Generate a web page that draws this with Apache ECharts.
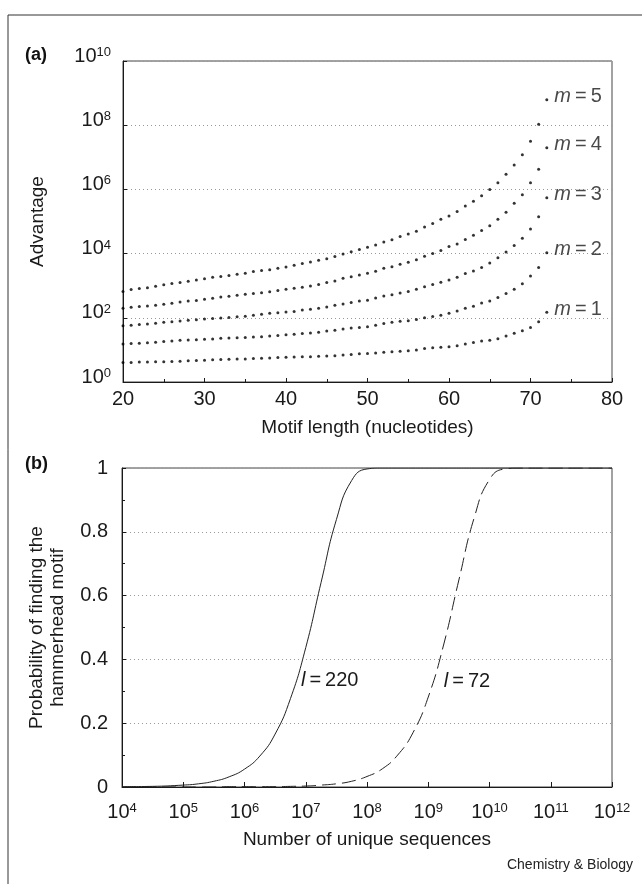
<!DOCTYPE html>
<html>
<head>
<meta charset="utf-8">
<title>Advantage and probability of finding the hammerhead motif</title>
<script src="https://cdn.jsdelivr.net/npm/echarts@6/dist/echarts.min.js"></script>
<style>
html, body { margin: 0; padding: 0; background: #fff; }
#main { width: 642px; height: 884px; }
</style>
</head>
<body>
<div id="main"></div>
<script>
var motifLength = [20, 21, 22, 23, 24, 25, 26, 27, 28, 29, 30, 31, 32, 33, 34, 35, 36, 37, 38, 39,
    40, 41, 42, 43, 44, 45, 46, 47, 48, 49, 50, 51, 52, 53, 54, 55, 56, 57, 58, 59,
    60, 61, 62, 63, 64, 65, 66, 67, 68, 69, 70, 71, 72];
var advM1 = [0.61, 0.61, 0.62, 0.62, 0.63, 0.63, 0.64, 0.65, 0.66, 0.67, 0.68, 0.69, 0.70, 0.71, 0.72, 0.72, 0.73, 0.74, 0.75, 0.76,
    0.77, 0.78, 0.79, 0.79, 0.80, 0.81, 0.82, 0.84, 0.86, 0.88, 0.89, 0.90, 0.93, 0.94, 0.96, 0.97, 1.00, 1.04, 1.07, 1.08,
    1.10, 1.13, 1.18, 1.23, 1.28, 1.30, 1.35, 1.43, 1.52, 1.60, 1.70, 1.88, 2.17];
var advM2 = [1.18, 1.20, 1.21, 1.22, 1.24, 1.26, 1.28, 1.30, 1.31, 1.32, 1.33, 1.34, 1.36, 1.37, 1.38, 1.39, 1.40, 1.41, 1.43, 1.45,
    1.47, 1.49, 1.51, 1.53, 1.55, 1.59, 1.61, 1.65, 1.68, 1.70, 1.72, 1.77, 1.82, 1.86, 1.89, 1.91, 1.95, 2.00, 2.04, 2.08,
    2.14, 2.21, 2.30, 2.36, 2.46, 2.52, 2.63, 2.76, 2.89, 3.06, 3.30, 3.57, 4.03];
var advM3 = [1.75, 1.77, 1.79, 1.81, 1.83, 1.86, 1.88, 1.90, 1.92, 1.94, 1.96, 1.98, 1.99, 2.01, 2.03, 2.05, 2.08, 2.11, 2.14, 2.16,
    2.18, 2.20, 2.24, 2.27, 2.30, 2.34, 2.39, 2.43, 2.48, 2.52, 2.55, 2.62, 2.68, 2.72, 2.77, 2.82, 2.89, 2.97, 3.04, 3.11,
    3.18, 3.26, 3.38, 3.46, 3.57, 3.71, 3.87, 4.05, 4.25, 4.48, 4.77, 5.15, 5.74];
var advM4 = [2.30, 2.33, 2.35, 2.37, 2.39, 2.42, 2.45, 2.49, 2.52, 2.54, 2.58, 2.61, 2.65, 2.67, 2.70, 2.73, 2.76, 2.78, 2.81, 2.85,
    2.89, 2.92, 2.95, 2.99, 3.04, 3.10, 3.15, 3.23, 3.28, 3.33, 3.39, 3.45, 3.54, 3.59, 3.67, 3.73, 3.81, 3.92, 4.00, 4.10,
    4.22, 4.30, 4.44, 4.57, 4.72, 4.87, 5.07, 5.29, 5.57, 5.83, 6.21, 6.63, 7.30];
var advM5 = [2.82, 2.88, 2.91, 2.94, 2.98, 3.03, 3.07, 3.10, 3.14, 3.18, 3.22, 3.26, 3.29, 3.32, 3.36, 3.39, 3.44, 3.47, 3.50, 3.54,
    3.58, 3.64, 3.69, 3.74, 3.79, 3.84, 3.91, 3.99, 4.06, 4.13, 4.20, 4.27, 4.36, 4.43, 4.53, 4.61, 4.70, 4.83, 4.94, 5.07,
    5.17, 5.31, 5.48, 5.63, 5.80, 6.00, 6.21, 6.47, 6.76, 7.08, 7.50, 8.03, 8.79];
var mNames = ['1', '2', '3', '4', '5'];

// (b) number of unique sequences (power of ten) and probability of finding the motif
var seqExp = [4, 4.5, 5, 5.25, 5.5, 5.75, 6, 6.25, 6.5, 6.75, 7, 7.25, 7.5, 7.75, 8, 8.25, 8.5, 8.75,
    9, 9.25, 9.5, 9.75, 10, 10.25, 10.5, 11, 11.5, 12];
var prob220 = [0.001, 0.002, 0.006, 0.010, 0.018, 0.032, 0.056, 0.097, 0.166, 0.277, 0.437, 0.641, 0.838, 0.961, 0.997, 1, 1, 1,
    1, 1, 1, 1, 1, 1, 1, 1, 1, 1];
var prob72 = [0, 0, 0, 0, 0, 0.001, 0.001, 0.001, 0.001, 0.002, 0.003, 0.006, 0.010, 0.018, 0.033, 0.057, 0.100, 0.170,
    0.282, 0.445, 0.649, 0.844, 0.964, 0.997, 1, 1, 1, 1];

var font = 'Liberation Sans';
var ink = '#1a1a1a';

var myChart = echarts.init(document.getElementById('main'));

function pow10Label(v) {
    var e = Math.round(Math.log(v) / Math.LN10);
    return '{b|10}{s|' + e + '}';
}
var powRich = {
    b: { fontSize: 20, fontFamily: font, color: ink },
    s: { fontSize: 13, fontFamily: font, color: ink, verticalAlign: 'top' }
};
var italicRich = {
    i: { fontSize: 20, fontFamily: font, fontStyle: 'italic', color: ink },
    t: { fontSize: 20, fontFamily: font, color: ink }
};

function dotSeries(exps, m) {
    var data = exps.map(function (e, i) {
        var item = { value: [motifLength[i], Math.pow(10, e)] };
        if (i === exps.length - 1) {
            item.label = {
                show: true,
                position: 'right',
                distance: 6,
                offset: [0, -3],
                formatter: '{i|m}{t|\u2009=\u2009' + m + '}',
                rich: italicRich
            };
        }
        return item;
    });
    return {
        type: 'scatter',
        name: 'm=' + m,
        xAxisIndex: 0,
        yAxisIndex: 0,
        symbol: 'circle',
        symbolSize: 3,
        itemStyle: { color: '#000' },
        data: data
    };
}

function probSeries(probs, l, dash, labelAt, offset) {
    return {
        type: 'line',
        name: 'l=' + l,
        xAxisIndex: 1,
        yAxisIndex: 1,
        showSymbol: false,
        smooth: true,
        lineStyle: { color: '#222', width: 1, type: dash },
        data: probs.map(function (p, i) { return [Math.pow(10, seqExp[i]), p]; }),
        markPoint: {
            symbol: 'circle',
            symbolSize: 1,
            itemStyle: { color: 'rgba(0,0,0,0)' },
            label: {
                show: true,
                position: 'right',
                distance: 0,
                offset: offset,
                formatter: '{i|l}{t|\u2009=\u2009' + l + '}',
                rich: italicRich
            },
            data: [{ coord: [Math.pow(10, seqExp[labelAt]), probs[labelAt]] }]
        }
    };
}

var axisLineStyle = { lineStyle: { color: ink, width: 1 } };
var gridDots = { show: true, lineStyle: { color: '#999', width: 1, type: [1, 3] } };
var titleStyle = { fontSize: 19, color: ink, fontFamily: font };

option = {
    animation: false,
    backgroundColor: '#fff',
    textStyle: { fontFamily: font },
    grid: [
        { left: 123, top: 61, right: 30, bottom: 502, show: true, borderColor: '#444', borderWidth: 1 },
        { left: 122, top: 468, right: 30, bottom: 97, show: true, borderColor: '#444', borderWidth: 1 }
    ],
    xAxis: [{
        gridIndex: 0,
        type: 'value',
        min: 20,
        max: 80,
        interval: 10,
        name: 'Motif length (nucleotides)',
        nameLocation: 'middle',
        nameGap: 36,
        nameTextStyle: titleStyle,
        axisLine: axisLineStyle,
        axisTick: { inside: true, length: 4, lineStyle: { color: ink } },
        minorTick: { show: true, splitNumber: 2, length: 3, lineStyle: { color: ink } },
        axisLabel: { fontSize: 20, color: ink, margin: 7, fontFamily: font },
        splitLine: { show: false }
    }, {
        gridIndex: 1,
        type: 'log',
        logBase: 10,
        min: 1e4,
        max: 1e12,
        interval: 1,
        name: 'Number of unique sequences',
        nameLocation: 'middle',
        nameGap: 43,
        nameTextStyle: titleStyle,
        axisLine: axisLineStyle,
        axisTick: { inside: true, length: 5, lineStyle: { color: ink } },
        axisLabel: { margin: 15, formatter: pow10Label, rich: powRich },
        splitLine: { show: false }
    }],
    yAxis: [{
        gridIndex: 0,
        type: 'log',
        logBase: 10,
        min: 1,
        max: 1e10,
        interval: 2,
        name: 'Advantage',
        nameLocation: 'middle',
        nameGap: 76,
        nameTextStyle: titleStyle,
        axisLine: axisLineStyle,
        axisTick: { inside: true, length: 4, lineStyle: { color: ink } },
        axisLabel: { margin: 12, padding: [0, 0, 10, 0], formatter: pow10Label, rich: powRich },
        splitLine: gridDots
    }, {
        gridIndex: 1,
        type: 'value',
        min: 0,
        max: 1,
        interval: 0.2,
        name: 'Probability of finding the\nhammerhead motif',
        nameLocation: 'middle',
        nameGap: 54,
        nameTextStyle: { fontSize: 19, lineHeight: 21, color: ink, fontFamily: font },
        axisLine: axisLineStyle,
        axisTick: { inside: true, length: 4, lineStyle: { color: ink } },
        minorTick: { show: true, splitNumber: 2, length: 3, lineStyle: { color: ink } },
        axisLabel: { fontSize: 20, color: ink, margin: 14, padding: [0, 0, 11, 0], fontFamily: font },
        splitLine: gridDots
    }],
    graphic: [{
        type: 'polyline',
        shape: { points: [[8, 884], [8, 15], [642, 15]] },
        style: { stroke: '#333', lineWidth: 1, fill: null }
    }, {
        type: 'text', left: 25, top: 46,
        style: { text: '(a)', font: 'bold 18px ' + font, fill: '#111' }
    }, {
        type: 'text', left: 25, top: 455,
        style: { text: '(b)', font: 'bold 18px ' + font, fill: '#111' }
    }, {
        type: 'text', right: 9, top: 858,
        style: { text: 'Chemistry & Biology', font: '14px ' + font, fill: '#222' }
    }],
    series: [
        dotSeries(advM1, mNames[0]),
        dotSeries(advM2, mNames[1]),
        dotSeries(advM3, mNames[2]),
        dotSeries(advM4, mNames[3]),
        dotSeries(advM5, mNames[4]),
        probSeries(prob220, '220', 'solid', 9, [10, -18]),
        probSeries(prob72, '72', [14, 6], 18, [15, -16])
    ]
};
myChart.setOption(option);
</script>
</body>
</html>
